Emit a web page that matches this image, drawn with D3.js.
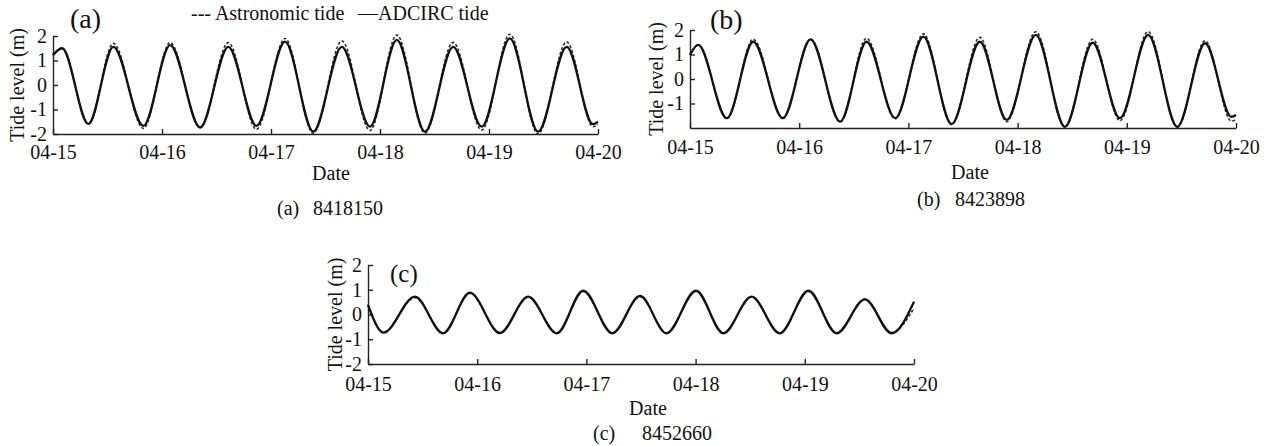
<!DOCTYPE html>
<html>
<head>
<meta charset="utf-8">
<script src="https://cdn.jsdelivr.net/npm/d3@7/dist/d3.min.js"></script>
<style>
  html, body { margin: 0; padding: 0; background: #fff; }
  svg { display: block; }
  text { font-family: "Liberation Serif", "Times New Roman", serif; fill: #111; }
</style>
</head>
<body>
<svg id="chart" width="1277" height="446"></svg>
<script>
// ---------- DATA ----------
const dateLabels = ["04-15", "04-16", "04-17", "04-18", "04-19", "04-20"];
const dateHours = [0, 24, 48, 72, 96, 120];
const seriesNames = ["Astronomic tide", "ADCIRC tide"];

// Panel (a) station 8418150 : times in hours from 04-15 00:00, levels in m
const hoursA = [0, 2.0, 7.8, 13.3, 19.9, 25.8, 32.4, 38.6, 44.8, 51.1, 57.3, 63.6, 69.8, 75.7, 81.9, 88.1, 94.4, 100.6, 106.8, 113.1, 118.9, 120];
const adcircA = [1.22, 1.50, -1.59, 1.56, -1.67, 1.63, -1.73, 1.56, -1.67, 1.77, -1.90, 1.56, -1.70, 1.84, -1.90, 1.56, -1.70, 1.90, -1.90, 1.56, -1.60, -1.50];
const astroA = [1.20, 1.52, -1.60, 1.70, -1.77, 1.73, -1.75, 1.73, -1.81, 1.90, -1.97, 1.80, -1.86, 2.04, -1.97, 1.74, -1.84, 2.07, -2.00, 1.76, -1.70, -1.62];
const yTicksA = [-2, -1, 0, 1, 2];

// Panel (b) station 8423898
const hoursB = [0, 1.8, 8.1, 13.9, 20.4, 26.5, 33.0, 38.8, 45.1, 51.3, 57.5, 63.7, 69.6, 76.0, 82.4, 88.5, 94.5, 100.7, 107.1, 113.2, 119.0, 120];
const adcircB = [0.98, 1.39, -1.60, 1.52, -1.60, 1.62, -1.74, 1.52, -1.60, 1.73, -1.84, 1.52, -1.67, 1.80, -1.95, 1.48, -1.60, 1.80, -1.95, 1.46, -1.55, -1.47];
const astroB = [0.98, 1.40, -1.62, 1.62, -1.58, 1.62, -1.76, 1.66, -1.62, 1.84, -1.86, 1.70, -1.74, 1.93, -1.97, 1.62, -1.70, 1.93, -1.97, 1.56, -1.72, -1.65];
const yTicksB = [-1, 0, 1, 2];

// Panel (c) station 8452660
const hoursC = [0, 3.4, 10.3, 16.5, 22.4, 29.0, 35.2, 41.5, 47.3, 53.7, 59.8, 65.6, 72.1, 78.1, 84.3, 90.5, 96.8, 103.0, 109.2, 115.1, 120];
const adcircC = [0.38, -0.73, 0.72, -0.76, 0.88, -0.75, 0.72, -0.76, 0.96, -0.76, 0.75, -0.76, 0.96, -0.76, 0.72, -0.76, 0.96, -0.76, 0.61, -0.76, 0.52];
const astroC = [0.42, -0.72, 0.68, -0.74, 0.85, -0.73, 0.70, -0.74, 0.93, -0.74, 0.72, -0.74, 0.94, -0.74, 0.70, -0.74, 0.93, -0.74, 0.62, -0.72, 0.25];
const yTicksC = [-2, -1, 0, 1, 2];

// ---------- LAYOUT ----------
const panels = [
  { tag: "(a)", station: "8418150", hours: hoursA, adcirc: adcircA, astro: astroA, yTicks: yTicksA,
    left: 53, right: 598, top: 36, bottom: 134, xPad: 11,
    yLabelX: 17, tagX: 70, tagY: 28, tagSize: 28,
    dateX: 331, dateY: 180, subX: 277, numX: 313, subY: 215, legend: true },
  { tag: "(b)", station: "8423898", hours: hoursB, adcirc: adcircB, astro: astroB, yTicks: yTicksB,
    left: 690, right: 1236, top: 30, bottom: 128, xPad: 12,
    yLabelX: 656, tagX: 710, tagY: 29, tagSize: 28,
    dateX: 970, dateY: 179, subX: 917, numX: 955, subY: 206, legend: false },
  { tag: "(c)", station: "8452660", hours: hoursC, adcirc: adcircC, astro: astroC, yTicks: yTicksC,
    left: 368, right: 914, top: 265, bottom: 364, xPad: 13,
    yLabelX: 335, tagX: 390, tagY: 282, tagSize: 25,
    dateX: 648, dateY: 415, subX: 593, numX: 642, subY: 440, legend: false }
];

const svg = d3.select("#chart");
const FS = 20;

panels.forEach(p => {
  const x = d3.scaleLinear().domain([0, 120]).range([p.left, p.right]);
  const y = d3.scaleLinear().domain([-2, 2]).range([p.bottom, p.top]);
  const g = svg.append("g");

  // axes
  const xAxis = d3.axisBottom(x).tickValues(dateHours)
    .tickFormat((d, i) => dateLabels[i]).tickSizeInner(-5).tickSizeOuter(0).tickPadding(p.xPad);
  const gx = g.append("g").attr("transform", `translate(0,${p.bottom})`).call(xAxis);
  const yAxis = d3.axisLeft(y).tickValues(p.yTicks)
    .tickFormat(d => String(d)).tickSizeInner(-5).tickSizeOuter(0).tickPadding(6);
  const gy = g.append("g").attr("transform", `translate(${p.left},0)`).call(yAxis);
  [gx, gy].forEach(a => {
    a.selectAll("path.domain").attr("stroke", "#222").attr("stroke-width", 1.4);
    a.selectAll(".tick line").attr("stroke", "#222").attr("stroke-width", 1.4);
    a.selectAll("text").attr("font-size", FS).attr("font-family", "Liberation Serif").attr("fill", "#111");
  });

  // lines
  const line = vals => d3.line()
    .x((d, i) => x(p.hours[i]))
    .y(d => y(d))
    .curve(d3.curveMonotoneX)(vals);
  g.append("path").attr("d", line(p.astro)).attr("fill", "none")
    .attr("stroke", "#333").attr("stroke-width", 1.6).attr("stroke-dasharray", "3,2");
  g.append("path").attr("d", line(p.adcirc)).attr("fill", "none")
    .attr("stroke", "#111").attr("stroke-width", 2.3);

  // axis titles
  g.append("text").attr("transform", `translate(${p.yLabelX},${(p.top + p.bottom) / 2}) rotate(-90)`)
    .attr("text-anchor", "middle").attr("dy", "0.35em").attr("font-size", FS).text("Tide level (m)");
  g.append("text").attr("x", p.dateX).attr("y", p.dateY).attr("text-anchor", "middle")
    .attr("font-size", FS).text("Date");
  g.append("text").attr("x", p.subX).attr("y", p.subY).attr("font-size", FS).text(p.tag);
  g.append("text").attr("x", p.numX).attr("y", p.subY).attr("font-size", FS).text(p.station);

  // panel tag
  g.append("text").attr("x", p.tagX).attr("y", p.tagY).attr("font-size", p.tagSize).text(p.tag);

  if (p.legend) {
    g.append("text").attr("x", 191).attr("y", 20).attr("font-size", FS).text("--- " + seriesNames[0]);
    g.append("text").attr("x", 358).attr("y", 20).attr("font-size", FS).text("\u2014" + seriesNames[1]);
  }
});
</script>
</body>
</html>
